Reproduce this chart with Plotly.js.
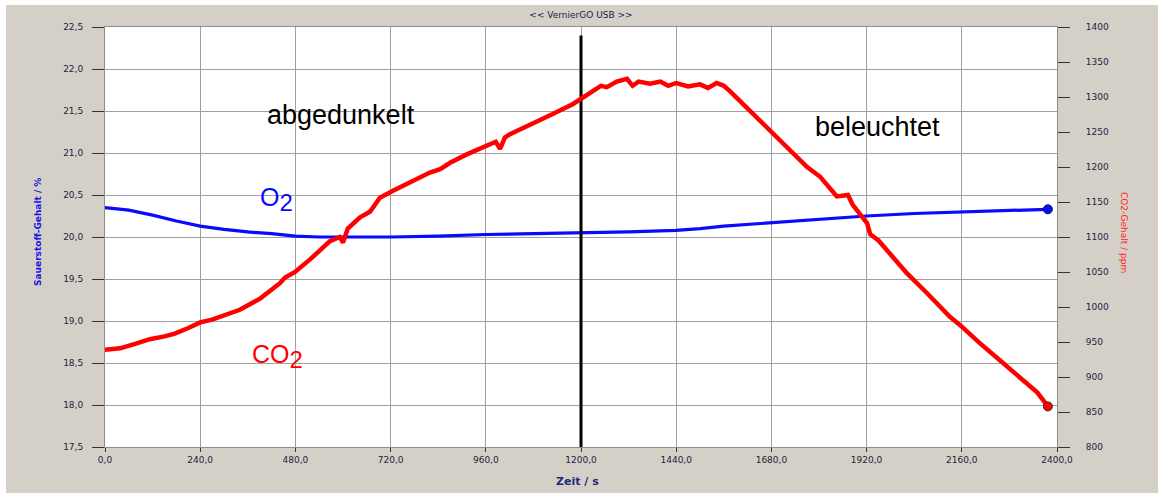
<!DOCTYPE html>
<html>
<head>
<meta charset="utf-8">
<script src="https://cdn.plot.ly/plotly-3.0.1.min.js"></script>
<style>
  html, body { margin: 0; padding: 0; background: #ffffff; width: 1158px; height: 493px; overflow: hidden; }
  #chart { position: absolute; left: 6px; top: 5px; width: 1152px; height: 488px; }
</style>
</head>
<body>
<div id="chart"></div>
<script>
// ---- Data ----
const co2Time = [0, 38, 80, 113, 150, 176, 210, 240, 270, 302, 340, 391, 441, 454, 479, 517, 567, 592, 600, 612, 643, 668, 693, 726, 744, 794, 819, 845, 870, 912, 960, 985, 996, 1008, 1021, 1080, 1130, 1180, 1200, 1230, 1250, 1265, 1290, 1316, 1330, 1345, 1374, 1400, 1420, 1440, 1470, 1500, 1520, 1542, 1560, 1576, 1601, 1634, 1676, 1719, 1770, 1803, 1845, 1873, 1885, 1921, 1929, 1950, 1971, 2022, 2072, 2100, 2130, 2160, 2206, 2264, 2324, 2350, 2377];
const co2Ppm  = [939, 941, 948, 954, 958, 962, 970, 978, 982, 989, 996, 1012, 1034, 1042, 1050, 1068, 1094, 1100, 1092, 1112, 1128, 1136, 1156, 1166, 1171, 1184, 1192, 1197, 1206, 1218, 1231, 1236, 1226, 1242, 1247, 1262, 1276, 1290, 1297, 1308, 1316, 1314, 1322, 1326, 1316, 1322, 1319, 1322, 1316, 1320, 1315, 1318, 1313, 1320, 1316, 1308, 1294, 1277, 1253, 1229, 1200, 1186, 1158, 1160, 1146, 1120, 1104, 1095, 1081, 1048, 1020, 1004, 986, 972, 948, 920, 891, 878, 858];

const o2Time = [0, 38, 60, 120, 180, 240, 300, 360, 420, 480, 540, 600, 720, 840, 960, 1080, 1200, 1320, 1440, 1500, 1560, 1620, 1680, 1800, 1920, 2040, 2160, 2280, 2377];
const o2Pct  = [20.35, 20.33, 20.32, 20.26, 20.19, 20.13, 20.09, 20.06, 20.04, 20.01, 20.00, 20.00, 20.00, 20.01, 20.03, 20.04, 20.05, 20.06, 20.08, 20.10, 20.13, 20.15, 20.17, 20.21, 20.25, 20.28, 20.30, 20.32, 20.33];

const switchTime = [1200, 1200];      // moment the light was switched on
const switchLineY = [17.5, 22.4];     // extent of the marker line on the O2 axis

const xTicks = [0, 240, 480, 720, 960, 1200, 1440, 1680, 1920, 2160, 2400];
const o2Ticks = [17.5, 18.0, 18.5, 19.0, 19.5, 20.0, 20.5, 21.0, 21.5, 22.0, 22.5];
const co2Ticks = [800, 850, 900, 950, 1000, 1050, 1100, 1150, 1200, 1250, 1300, 1350, 1400];

const titleText = '&lt;&lt; VernierGO USB &gt;&gt;';
const xTitle = 'Zeit / s';
const yLeftTitle = 'Sauerstoff-Gehalt / %';
const yRightTitle = 'CO2-Gehalt / ppm';

// ---- Traces ----
const RED = '#ff0000';
const BLUE = '#0a0aff';

const traces = [
  {
    x: o2Time, y: o2Pct, type: 'scatter', mode: 'lines',
    line: { color: BLUE, width: 3.2 }, yaxis: 'y', hoverinfo: 'skip'
  },
  {
    x: co2Time, y: co2Ppm, type: 'scatter', mode: 'lines',
    line: { color: RED, width: 4.5 }, yaxis: 'y2', hoverinfo: 'skip'
  },
  {
    x: [o2Time[o2Time.length - 1]], y: [o2Pct[o2Pct.length - 1]], type: 'scatter', mode: 'markers',
    marker: { color: BLUE, size: 9, line: { color: '#101060', width: 1 } }, yaxis: 'y', hoverinfo: 'skip'
  },
  {
    x: [co2Time[co2Time.length - 1]], y: [co2Ppm[co2Ppm.length - 1]], type: 'scatter', mode: 'markers',
    marker: { color: RED, size: 9, line: { color: '#402020', width: 1 } }, yaxis: 'y2', hoverinfo: 'skip'
  },
  {
    x: switchTime, y: switchLineY, type: 'scatter', mode: 'lines',
    line: { color: '#000000', width: 3 }, yaxis: 'y', hoverinfo: 'skip'
  }
];

const tickFont = { family: 'DejaVu Sans', size: 9, color: '#1e1e3a' };

const layout = {
  width: 1152, height: 488,
  margin: { l: 99, r: 101, t: 22, b: 46 },
  paper_bgcolor: '#d4d0c8',
  plot_bgcolor: '#ffffff',
  showlegend: false,
  separators: ',.',
  title: {
    text: titleText,
    font: { family: 'DejaVu Sans', size: 9, color: '#222244' },
    x: 0.5, xanchor: 'center', xref: 'paper',
    y: 0.979, yanchor: 'middle', yref: 'container'
  },
  xaxis: {
    range: [0, 2400], tickvals: xTicks, tickformat: '.1f',
    showgrid: true, gridcolor: '#a0a0a0', gridwidth: 1,
    zeroline: false, showline: true, linecolor: '#8c8c8c', linewidth: 1, mirror: true,
    ticks: 'outside', ticklen: 4, tickcolor: '#333333', tickwidth: 1,
    tickfont: tickFont, fixedrange: true
  },
  yaxis: {
    range: [17.5, 22.5], tickvals: o2Ticks, tickformat: '.1f',
    showgrid: true, gridcolor: '#a0a0a0', gridwidth: 1,
    zeroline: false, showline: true, linecolor: '#8c8c8c', linewidth: 1,
    ticks: 'outside', ticklen: 12, tickcolor: '#333333', tickwidth: 1,
    ticklabelstandoff: 7,
    tickfont: tickFont, fixedrange: true
  },
  yaxis2: {
    range: [800, 1400], tickvals: co2Ticks, tickformat: 'd',
    overlaying: 'y', side: 'right', anchor: 'x',
    showgrid: false, zeroline: false, showline: true, linecolor: '#8c8c8c', linewidth: 1,
    ticks: 'outside', ticklen: 12, tickcolor: '#333333', tickwidth: 1,
    ticklabelstandoff: 14,
    tickfont: tickFont, fixedrange: true
  },
  annotations: [
    { text: 'abgedunkelt', xref: 'paper', yref: 'paper', x: 0.248, y: 0.79, xanchor: 'center', yanchor: 'middle',
      showarrow: false, font: { family: 'Liberation Sans', size: 27, color: '#000000' } },
    { text: 'beleuchtet', xref: 'paper', yref: 'paper', x: 0.811, y: 0.762, xanchor: 'center', yanchor: 'middle',
      showarrow: false, font: { family: 'Liberation Sans', size: 27, color: '#000000' } },
    { text: 'O<sub><span style="font-size:24px">2</span></sub>', xref: 'paper', yref: 'paper', x: 0.161, y: 0.59, xanchor: 'left', yanchor: 'middle',
      showarrow: false, font: { family: 'Liberation Sans', size: 25, color: BLUE } },
    { text: 'CO<sub><span style="font-size:24px">2</span></sub>', xref: 'paper', yref: 'paper', x: 0.152, y: 0.215, xanchor: 'left', yanchor: 'middle',
      showarrow: false, font: { family: 'Liberation Sans', size: 25, color: RED } },
    { text: '<b>' + xTitle + '</b>', xref: 'paper', yref: 'paper', x: 0.4968, y: -0.083, xanchor: 'center', yanchor: 'middle',
      showarrow: false, font: { family: 'DejaVu Sans', size: 11, color: '#1c2a7a' } },
    { text: '<b>' + yLeftTitle + '</b>', xref: 'paper', yref: 'paper', x: -0.0704, y: 0.512, xanchor: 'center', yanchor: 'middle',
      textangle: -90, showarrow: false, font: { family: 'DejaVu Sans', size: 9, color: '#1414e6' } },
    { text: yRightTitle, xref: 'paper', yref: 'paper', x: 1.0704, y: 0.512, xanchor: 'center', yanchor: 'middle',
      textangle: 90, showarrow: false, font: { family: 'DejaVu Sans', size: 9, color: '#ff2a2a' } }
  ]
};

Plotly.newPlot('chart', traces, layout, { displayModeBar: false, staticPlot: true });
</script>
</body>
</html>
